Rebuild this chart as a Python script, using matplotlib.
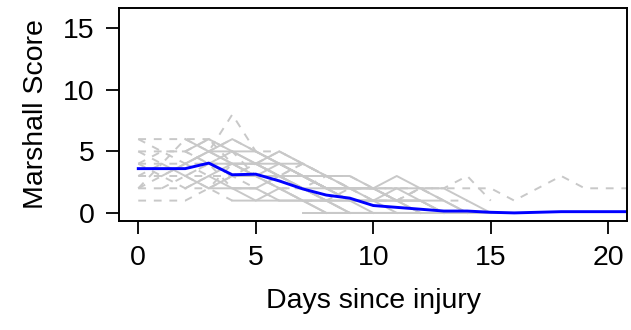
import numpy as np
import matplotlib
matplotlib.use("Agg")
import matplotlib.pyplot as plt

plt.rcParams['font.family'] = ['Liberation Sans', 'DejaVu Sans']

# mean Marshall score per day (blue line)
mean_days = list(range(0, 22))
mean_score = [3.6, 3.6, 3.6, 4.05, 3.1, 3.15, 2.6, 1.95, 1.45, 1.2, 0.6,
              0.45, 0.3, 0.15, 0.15, 0.05, 0.0, 0.05, 0.1, 0.1, 0.1, 0.1]

# individual patients, dashed (gaps in follow-up)
dashed_days = [
    [0, 1, 2, 3, 4, 5, 6, 7, 8, 9, 10],
    [0, 1, 2, 3, 4, 5, 6, 7],
    [0, 1, 2, 3, 4, 5, 6, 7, 8, 9],
    [0, 1, 2, 3, 4, 5, 6],
    [0, 1, 2, 3, 4, 5],
    [0, 1, 2, 3, 4],
    [0, 1, 2, 3, 4, 5, 6, 7, 8],
    [0, 1, 2, 3, 4, 5, 6, 7, 8, 9, 10, 11],
    [0, 1, 2, 3],
    [0, 1, 2, 3, 4, 5, 6, 7, 8, 9, 10, 11, 12, 13, 14, 15, 16, 18, 19, 20, 21],
    [0, 1, 2, 3, 4, 5, 6, 7, 8, 9, 10, 11, 12, 13, 14, 15],
    [1, 2, 3, 4, 5, 6, 7, 8, 9, 10, 11, 12, 13],
    [0, 1, 2, 3, 4, 5, 6, 7, 8, 9],
    [0, 1, 2, 3, 4, 5, 6, 7, 8],
    [2, 3, 4, 5, 6, 7, 8, 9, 10, 11, 12, 13, 14],
]
dashed_scores = [
    [6, 6, 6, 5, 8, 5, 4, 3, 2, 2, 1],
    [5, 5, 5, 6, 4, 4, 3, 2],
    [4, 4, 4, 3, 3, 4, 5, 4, 3, 2],
    [3, 3, 3, 4, 2, 2, 1],
    [2, 2, 2, 3, 3, 2],
    [1, 1, 1, 2, 1],
    [5, 4, 6, 6, 5, 4, 3, 3, 2],
    [4, 5, 4, 5, 6, 5, 5, 4, 3, 3, 2, 2],
    [3, 4, 3, 3],
    [2, 3, 2, 2, 3, 3, 2, 2, 1, 2, 2, 2, 2, 2, 2, 2, 1, 3, 2, 2, 2],
    [6, 5, 5, 4, 4, 3, 3, 4, 3, 2, 2, 1, 2, 2, 3, 1],
    [2, 3, 4, 5, 3, 2, 2, 3, 2, 1, 1, 2, 1],
    [4, 3, 4, 4, 5, 4, 3, 2, 1, 0],
    [2, 4, 3, 2, 4, 3, 2, 1, 1],
    [5, 4, 3, 4, 3, 4, 3, 2, 2, 1, 2, 1, 1],
]

# individual patients, solid (consecutive observations)
solid_days = [
    [2, 3, 4, 5, 6, 7, 8, 9, 10],
    [2, 3, 4, 5, 6, 7, 8, 9, 10, 11, 12],
    [3, 4, 5, 6, 7, 8, 9, 10],
    [2, 3, 4, 5, 6, 7, 8],
    [3, 4, 5, 6, 7, 8, 9, 10, 11, 12, 13, 14],
    [4, 5, 6, 7, 8, 9, 10, 11, 12, 13],
    [5, 6, 7, 8, 9, 10, 11, 12, 13, 14, 15],
    [3, 4, 5, 6, 7, 8, 9, 10, 11, 12],
    [6, 7, 8, 9, 10, 11, 12, 13, 14],
    [4, 5, 6, 7, 8, 9, 10, 11, 12, 13],
    [7, 8, 9, 10, 11, 12, 13, 14, 15, 16],
    [2, 3, 4, 5, 6, 7],
    [1, 2, 3, 4, 5, 6, 7, 8, 9],
    [3, 4, 5, 6, 7, 8, 9, 10, 11],
    [2, 3, 4, 5, 6, 7, 8, 9],
    [4, 5, 6, 7, 8, 9, 10, 11, 12, 13, 14],
    [5, 6, 7, 8, 9, 10, 11, 12],
]
solid_scores = [
    [5, 6, 5, 5, 4, 3, 2, 1, 1],
    [4, 5, 4, 4, 3, 3, 2, 2, 1, 1, 0],
    [3, 4, 4, 3, 2, 1, 1, 0],
    [2, 3, 2, 2, 1, 1, 0],
    [4, 4, 3, 3, 3, 2, 2, 2, 1, 1, 0, 0],
    [3, 3, 4, 3, 2, 2, 2, 1, 1, 0],
    [5, 4, 3, 3, 2, 2, 3, 2, 2, 1, 0],
    [2, 2, 1, 2, 1, 1, 0, 0, 0, 0],
    [3, 3, 2, 2, 2, 2, 2, 1, 0],
    [1, 1, 1, 1, 1, 1, 1, 1, 1, 0],
    [0, 0, 0, 0, 0, 0, 0, 0, 0, 0],
    [6, 5, 6, 5, 4, 4],
    [3, 4, 5, 4, 3, 3, 2, 1, 0],
    [5, 5, 4, 4, 3, 2, 1, 1, 0],
    [3, 2, 3, 3, 2, 1, 0, 0],
    [2, 2, 3, 2, 2, 1, 1, 2, 1, 1, 0],
    [4, 5, 4, 3, 3, 2, 1, 0],
]

x_ticks = [0, 5, 10, 15, 20]
y_ticks = [0, 5, 10, 15]

fig = plt.figure(figsize=(6.31, 3.30), dpi=100)
ax = fig.add_axes([0.1886, 0.331, 0.8051, 0.644])

grey = '#c8c8c8'
for d, s in zip(solid_days, solid_scores):
    ax.plot(d, s, color=grey, lw=1.4)
for d, s in zip(dashed_days, dashed_scores):
    ax.plot(d, s, color=grey, lw=1.4, dashes=(4, 4))

ax.plot(mean_days, mean_score, color='#0000ff', lw=2.1)

ax.set_xlim(-0.82, 20.8)
ax.set_ylim(-0.64, 16.64)
ax.set_xticks(x_ticks)
ax.set_yticks(y_ticks)
ax.tick_params(direction='out', length=9.5, width=1.3, labelsize=20.5, pad=8)
for sp in ax.spines.values():
    sp.set_linewidth(1.4)

ax.set_xlabel('Days since injury', fontsize=20.5, labelpad=12)
ax.set_ylabel('Marshall Score', fontsize=20.5, labelpad=10)

fig.savefig('out.png', dpi=100)
